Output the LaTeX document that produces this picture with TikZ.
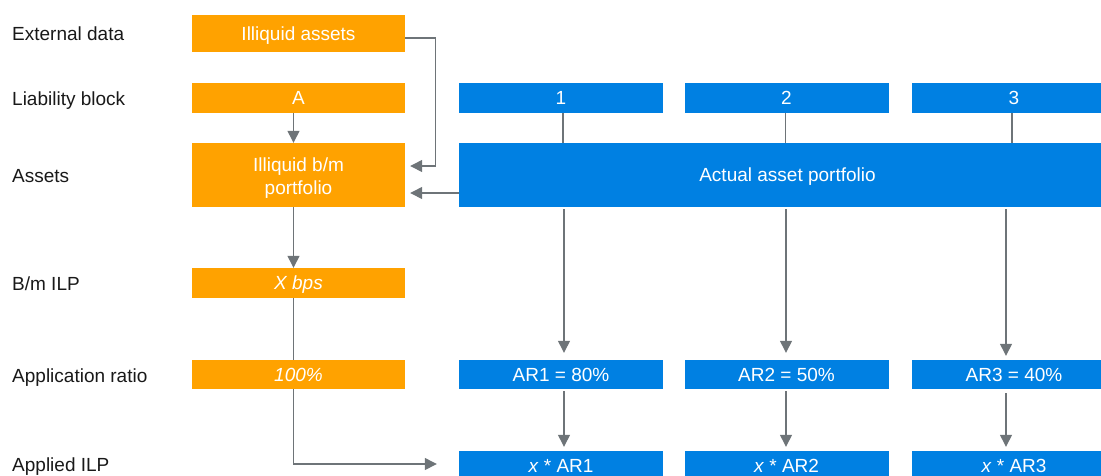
\documentclass[tikz,border=0pt]{standalone}
\usepackage{fontspec}
\setmainfont{Liberation Sans}
\usetikzlibrary{arrows.meta}
\definecolor{orng}{RGB}{255,162,0}
\definecolor{blu}{RGB}{0,128,226}
\definecolor{gry}{RGB}{110,116,120}
\definecolor{labtxt}{RGB}{25,25,25}
\begin{document}
\begin{tikzpicture}[x=1pt,y=-1pt,
  box/.style={draw=none,inner sep=0pt,text=white,font=\fontsize{19}{23}\selectfont,align=center,text height=13.6pt,text depth=0pt},
  obox/.style={box,fill=orng,minimum width=213pt},
  bbox/.style={box,fill=blu,minimum width=204pt},
  lab/.style={anchor=west,inner sep=0pt,text=labtxt,font=\fontsize{19}{23}\selectfont,text height=13.6pt,text depth=0pt},
  conn/.style={draw=gry,line width=1.3pt},
  arr/.style={conn,-{Triangle[width=12pt,length=12pt]}}]
\useasboundingbox (0,0) rectangle (1101,475);

% left labels
\node[lab] (l1) at (12,34) {External data};
\node[lab] (l2) at (12,99) {Liability block};
\node[lab] (l3) at (12,176) {Assets};
\node[lab] (l4) at (12,284) {B/m ILP};
\node[lab] (l5) at (12,376) {Application ratio};
\node[lab] (l6) at (12,465) {Applied ILP};

% orange column
\node[obox,minimum height=37pt] (ill) at (298.5,33.5) {Illiquid assets};
\node[obox,minimum height=30pt] (A) at (298.5,98) {A};
\node[obox,minimum height=64pt,text height=39.6pt,text depth=0pt] (bm) at (298.5,175) {Illiquid b/m\\portfolio};
\node[obox,minimum height=30pt] (xb) at (298.5,283) {\itshape X bps};
\node[obox,minimum height=29pt] (hp) at (298.5,374.5) {\itshape 100\%};

% blue columns
\node[bbox,minimum height=30pt] (b1) at (561,98) {1};
\node[bbox,minimum height=30pt] (b2) at (786.5,98) {2};
\node[bbox,minimum height=30pt] (b3) at (1014,98) {3};
\node[box,fill=blu,minimum width=657pt,minimum height=64pt] (act) at (787.5,175) {Actual asset portfolio};
\node[bbox,minimum height=29pt] (ar1) at (561,374.5) {AR1 = 80\%};
\node[bbox,minimum height=29pt] (ar2) at (786.5,374.5) {AR2 = 50\%};
\node[bbox,minimum height=29pt] (ar3) at (1014,374.5) {AR3 = 40\%};
\node[bbox,minimum height=30pt] (ax1) at (561,466) {\textit{x} * AR1};
\node[bbox,minimum height=30pt] (ax2) at (786.5,466) {\textit{x} * AR2};
\node[bbox,minimum height=30pt] (ax3) at (1014,466) {\textit{x} * AR3};

\coordinate (c1) at (564,0);
\coordinate (c2) at (786,0);
\coordinate (c3) at (1006,0);

% orange connectors
\draw[arr,shorten >=5pt] ([yshift=-4.5pt]ill.east) -- ++(30,0) |- ([yshift=9pt]bm.east);
\draw[arr,shorten >=5pt] ([yshift=-18pt]act.west) -- ([yshift=-18pt]bm.east);
\draw[arr] ([xshift=-5pt]A.south) -- ([xshift=-5pt]bm.north);
\draw[arr] ([xshift=-5pt]bm.south) -- ([xshift=-5pt]xb.north);
\draw[conn] ([xshift=-5pt]xb.south) -- ([xshift=-5pt]hp.north);
\draw[arr,shorten >=22pt] ([xshift=-5pt]hp.south) |- ([yshift=2pt]ax1.west);

% blue connectors
\draw[conn] ([xshift=2pt]b1.south) -- ([xshift=2pt]b1.south |- act.north);
\draw[conn] ([xshift=-1pt]b2.south) -- ([xshift=-1pt]b2.south |- act.north);
\draw[conn] ([xshift=-2pt]b3.south) -- ([xshift=-2pt]b3.south |- act.north);
\draw[arr,shorten >=7pt,shorten <=2pt] (act.south -| c1) -- (ar1.north -| c1);
\draw[arr,shorten >=7pt,shorten <=2pt] (act.south -| c2) -- (ar2.north -| c2);
\draw[arr,shorten >=4pt,shorten <=2pt] (act.south -| c3) -- (ar3.north -| c3);
\draw[arr,shorten >=4pt,shorten <=2pt] (ar1.south -| c1) -- (ax1.north -| c1);
\draw[arr,shorten >=4pt,shorten <=2pt] (ar2.south -| c2) -- (ax2.north -| c2);
\draw[arr,shorten >=4pt,shorten <=4pt] (ar3.south -| c3) -- (ax3.north -| c3);
\end{tikzpicture}
\end{document}
